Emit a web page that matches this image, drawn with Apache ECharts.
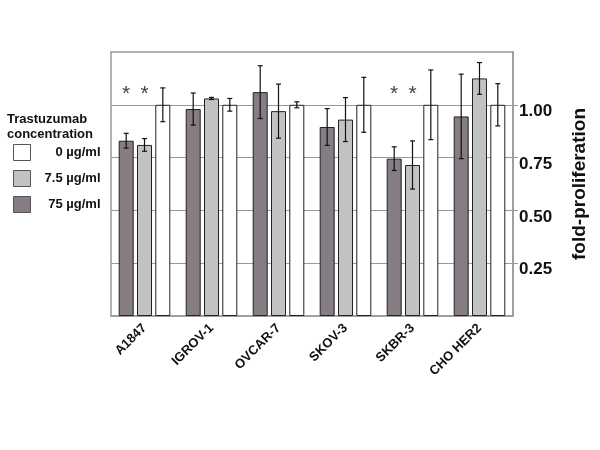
<!DOCTYPE html>
<html>
<head>
<meta charset="utf-8">
<script src="https://cdn.jsdelivr.net/npm/echarts@6/dist/echarts.min.js"></script>
<style>html,body{margin:0;padding:0;background:#fff}#chart{width:600px;height:450px}</style>
</head>
<body>
<div id="chart"></div>
<script>
// ---- data ----
const categories = ['A1847', 'IGROV-1', 'OVCAR-7', 'SKOV-3', 'SKBR-3', 'CHO HER2'];
const seriesNames = ['75 \u00b5g/ml', '7.5 \u00b5g/ml', '0 \u00b5g/ml'];
const vals75 = [0.83, 0.98, 1.06, 0.895, 0.745, 0.945];
const err75 = [0.035, 0.076, 0.125, 0.087, 0.056, 0.2];
const vals7_5 = [0.81, 1.03, 0.97, 0.93, 0.715, 1.125];
const err7_5 = [0.03, 0.005, 0.128, 0.104, 0.114, 0.075];
const vals0 = [1.0, 1.0, 1.0, 1.0, 1.0, 1.0];
const err0 = [0.08, 0.03, 0.014, 0.13, 0.165, 0.1];
const significant = [1, 0, 0, 0, 1, 0]; // '*' above 75 and 7.5 bars
const yTicks = [0.25, 0.5, 0.75, 1.0];

// ---- layout / style constants ----
const BAR_W = 15;
const BAR_GAP = '22%';
const STEP = BAR_W * 1.22;
const STAR_LEVEL = 1.05;
const colors = ['#857c84', '#c2c2c2', '#ffffff'];

const chart = echarts.init(document.getElementById('chart'));

function errSeries(vals, errs, idx) {
  const offset = (idx - 1) * STEP;
  return {
    type: 'custom',
    z: 10,
    silent: true,
    encode: { x: 0, y: 1 },
    data: vals.map((v, i) => [i, v, errs[i]]),
    renderItem: function (params, api) {
      const ci = api.value(0), v = api.value(1), e = api.value(2);
      const x = api.coord([ci, v])[0] + offset;
      const yt = api.coord([ci, v + e])[1];
      const yb = api.coord([ci, v - e])[1];
      const st = { stroke: '#111', lineWidth: 1.2 };
      return {
        type: 'group',
        children: [
          { type: 'line', shape: { x1: x, y1: yt, x2: x, y2: yb }, style: st },
          { type: 'line', shape: { x1: x - 2.5, y1: yt, x2: x + 2.5, y2: yt }, style: st },
          { type: 'line', shape: { x1: x - 2.5, y1: yb, x2: x + 2.5, y2: yb }, style: st }
        ]
      };
    }
  };
}

const barSeries = [vals75, vals7_5, vals0].map((vals, k) => ({
  name: seriesNames[k],
  type: 'bar',
  data: vals,
  barWidth: BAR_W,
  barGap: BAR_GAP,
  itemStyle: { color: colors[k], borderColor: '#222', borderWidth: 1 }
}));

const starSeries = {
  type: 'custom',
  z: 10,
  silent: true,
  encode: { x: 0, y: 1 },
  data: significant.map((s, i) => [i, STAR_LEVEL, s]).filter(d => d[2]),
  renderItem: function (params, api) {
    const ci = api.value(0);
    const c = api.coord([ci, api.value(1)]);
    return {
      type: 'group',
      children: [-1, 0].map(o => ({
        type: 'text',
        x: c[0] + o * STEP,
        y: c[1],
        style: { text: '*', fill: '#444', font: '21px Liberation Sans, Arial, sans-serif', align: 'center', verticalAlign: 'middle' }
      }))
    };
  }
};

const option = {
  backgroundColor: '#fff',
  animation: false,
  textStyle: { fontFamily: 'Liberation Sans, Arial, sans-serif' },
  title: {
    text: 'Trastuzumab\nconcentration',
    left: 7,
    top: 112,
    padding: 0,
    textStyle: { fontSize: 13, fontWeight: 'bold', color: '#111', lineHeight: 15 }
  },
  legend: {
    data: [seriesNames[2], seriesNames[1], seriesNames[0]],
    orient: 'vertical',
    left: 13,
    top: 144,
    padding: 0,
    itemWidth: 17,
    itemHeight: 16,
    itemGap: 9,
    icon: 'rect',
    selectedMode: false,
    itemStyle: { borderWidth: 1, borderColor: '#555' },
    formatter: name => '{a|' + name + '}',
    textStyle: {
      rich: { a: { width: 65, align: 'right', fontSize: 13, fontWeight: 'bold', color: '#111' } }
    }
  },
  grid: {
    left: 111, right: 87, top: 52, bottom: 134,
    show: true, borderColor: '#999', borderWidth: 1.5
  },
  xAxis: {
    type: 'category',
    data: categories,
    axisLine: { show: true, lineStyle: { color: '#999', width: 1.5 } },
    axisTick: { show: false },
    axisLabel: { rotate: 45, margin: 10, fontSize: 13, fontWeight: 'bold', color: '#111' }
  },
  yAxis: {
    type: 'value',
    position: 'right',
    min: 0,
    max: 1.25,
    interval: 0.25,
    name: 'fold-proliferation',
    nameLocation: 'middle',
    nameRotate: 90,
    nameGap: 57,
    nameTextStyle: { fontSize: 19, fontWeight: 'bold', color: '#111' },
    axisLine: { show: true, lineStyle: { color: '#999', width: 1.5 } },
    axisTick: { show: true, length: 5, lineStyle: { color: '#999' }, customValues: yTicks },
    splitLine: { show: true, lineStyle: { color: '#999', width: 1 } },
    axisLabel: {
      margin: 6,
      fontSize: 17,
      fontWeight: 'bold',
      color: '#111',
      verticalAlign: 'top',
      padding: [-2, 0, 0, 0],
      customValues: yTicks,
      formatter: v => v.toFixed(2)
    }
  },
  series: [
    ...barSeries,
    errSeries(vals75, err75, 0),
    errSeries(vals7_5, err7_5, 1),
    errSeries(vals0, err0, 2),
    starSeries
  ]
};
chart.setOption(option);
</script>
</body>
</html>
